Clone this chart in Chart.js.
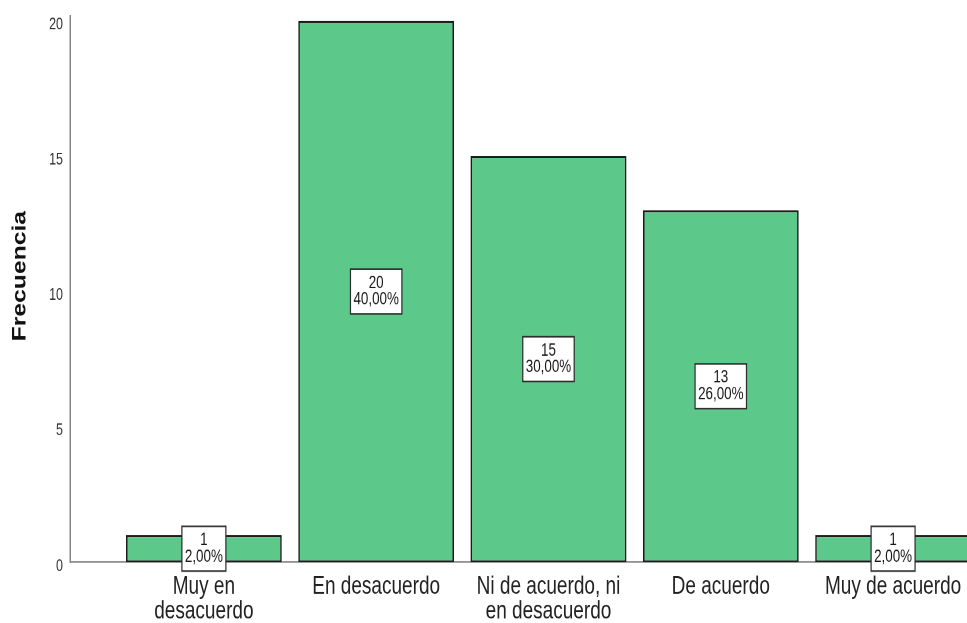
<!DOCTYPE html>
<html lang="es">
<head>
<meta charset="utf-8">
<title>Frecuencia</title>
<script src="https://cdn.jsdelivr.net/npm/chart.js@4.4.1/dist/chart.umd.min.js"></script>
<style>
    html { overflow: hidden; }
    html, body { margin: 0; padding: 0; background: #fff; width: 967px; height: 623px; }
    /* the chart is laid out short and stretched to full height, giving the tall lettering */
    #wrap { width: 967px; height: 479px; transform: scaleY(1.3006); transform-origin: 0 0; }
</style>
</head>
<body>
<div id="wrap"><canvas id="freq-chart"></canvas></div>
<script>
const categories = [
    ['Muy en', 'desacuerdo'],
    'En desacuerdo',
    ['Ni de acuerdo, ni', 'en desacuerdo'],
    'De acuerdo',
    'Muy de acuerdo'
];
const counts = [1, 20, 15, 13, 1];
const yTicks = [0, 5, 10, 15, 20];
const yTitle = 'Frecuencia';

const FONT = "Arial, 'Liberation Sans', sans-serif";

document.addEventListener('DOMContentLoaded', function() {
    const total = counts.reduce((a, b) => a + b, 0);

    // white box with count and percentage in the middle of each bar
    const valueBoxes = {
        id: 'valueBoxes',
        afterDraw(chart) {
            const ctx = chart.ctx;
            const meta = chart.getDatasetMeta(0);
            const lineH = 12.8;
            const padX = 3;
            const padY = 4.4;

            ctx.save();
            ctx.font = '13.4px ' + FONT;
            ctx.textAlign = 'center';
            ctx.textBaseline = 'middle';

            meta.data.forEach((bar, i) => {
                const pct = (counts[i] / total * 100).toFixed(2).replace('.', ',') + '%';
                const lines = [String(counts[i]), pct];
                const w = Math.max(...lines.map(t => ctx.measureText(t).width)) + padX * 2;
                const h = lines.length * lineH + padY * 2;
                const cx = bar.x;
                const cy = (bar.y + bar.base) / 2;

                ctx.fillStyle = '#fff';
                ctx.fillRect(cx - w / 2, cy - h / 2, w, h);
                ctx.strokeStyle = '#2b2b2b';
                ctx.lineWidth = 1.2;
                ctx.strokeRect(cx - w / 2, cy - h / 2, w, h);

                ctx.fillStyle = '#1a1a1a';
                lines.forEach((t, k) => {
                    ctx.fillText(t, cx, cy - h / 2 + padY + lineH * (k + 0.5));
                });
            });
            ctx.restore();
        }
    };

    // axis title sits a little above the middle of the value axis
    const axisTitle = {
        id: 'axisTitle',
        afterDraw(chart) {
            const ctx = chart.ctx;
            const y = chart.scales.y;
            ctx.save();
            ctx.translate(20.5, (y.top + y.bottom) / 2 - 10);
            ctx.rotate(-Math.PI / 2);
            ctx.font = 'bold 19px ' + FONT;
            ctx.fillStyle = '#111';
            ctx.textAlign = 'center';
            ctx.textBaseline = 'middle';
            ctx.fillText(yTitle, 0, 0);
            ctx.restore();
        }
    };

    new Chart(document.getElementById('freq-chart'), {
        type: 'bar',
        data: {
            datasets: [{
                label: yTitle,
                data: counts.map((v, i) => ({ x: i, y: v })),
                backgroundColor: '#5cc98a',
                borderColor: '#1c1c1c',
                borderWidth: 1.6,
                borderSkipped: false,
                categoryPercentage: 1,
                barPercentage: 0.904
            }]
        },
        options: {
            responsive: true,
            maintainAspectRatio: false,
            animation: false,
            devicePixelRatio: 2,
            layout: { padding: { top: 12.3, left: 0, right: 0, bottom: 0 } },
            plugins: {
                legend: { display: false },
                tooltip: { enabled: false }
            },
            scales: {
                x: {
                    type: 'linear',
                    min: -0.777,
                    max: 4.429,
                    offset: false,
                    afterBuildTicks: scale => {
                        scale.ticks = categories.map((_, i) => ({ value: i }));
                    },
                    afterFit: scale => {
                        scale.height = 46.7;
                        scale.paddingLeft = 0;
                        scale.paddingRight = 0;
                    },
                    grid: { display: false, drawTicks: false },
                    border: { display: true, color: '#8c8c8c', width: 1.2 },
                    ticks: {
                        autoSkip: false,
                        maxRotation: 0,
                        minRotation: 0,
                        padding: 9.5,
                        color: '#222',
                        font: { family: FONT, size: 19, lineHeight: 1 },
                        callback: value => categories[value]
                    }
                },
                y: {
                    min: 0,
                    max: 20.17,
                    afterBuildTicks: scale => {
                        scale.ticks = yTicks.map(v => ({ value: v }));
                    },
                    afterFit: scale => {
                        scale.width = 70;
                        scale.paddingTop = 0;
                        scale.paddingBottom = 0;
                    },
                    grid: { display: false, drawTicks: false },
                    border: { display: true, color: '#858585', width: 1.5 },
                    ticks: {
                        padding: 7,
                        labelOffset: 3,
                        color: '#333',
                        font: { family: FONT, size: 12.5 }
                    }
                }
            }
        },
        plugins: [valueBoxes, axisTitle]
    });
});
</script>
</body>
</html>
